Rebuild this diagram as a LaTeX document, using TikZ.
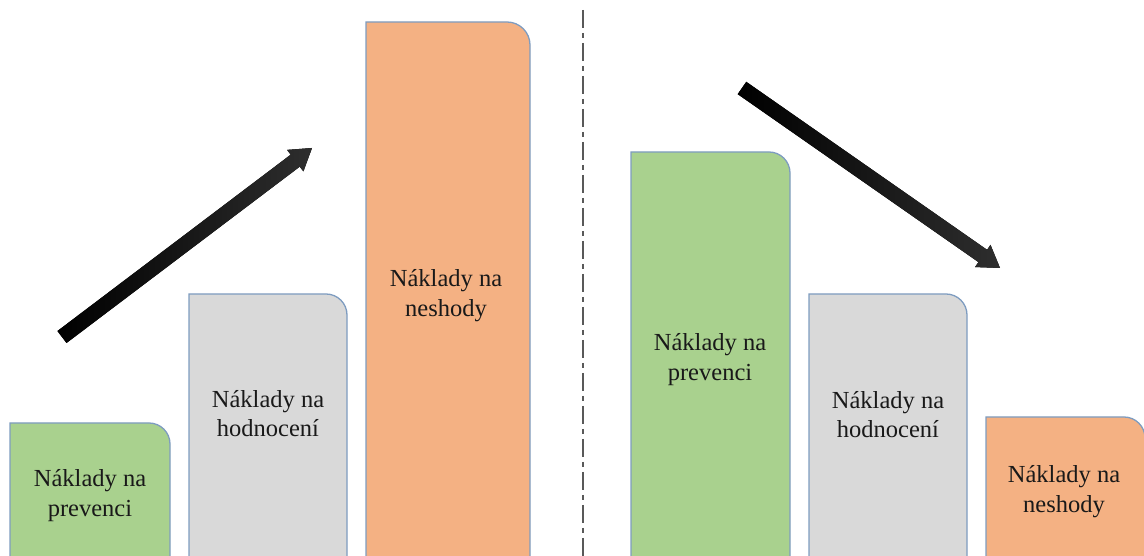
\documentclass[tikz,border=0pt]{standalone}
\usepackage{fontspec}
\setmainfont{Liberation Serif}
\usetikzlibrary{calc}
\definecolor{barG}{RGB}{169,209,142}
\definecolor{barY}{RGB}{217,217,217}
\definecolor{barO}{RGB}{244,177,131}
\definecolor{edgeC}{RGB}{126,156,192}
\tikzset{
  bar/.style={draw=edgeC, line width=1.3pt},
  lbl/.style={align=center, font=\fontsize{24.5}{29.5}\selectfont, text=black!90, inner sep=0pt},
  sep/.style={draw=black!65, line width=2.4pt, dash pattern=on 18pt off 5pt on 5pt off 5pt},
}
% #1 colour, #2 x-left, #3 x-right, #4 top, #5 radius
\newcommand\costbar[5]{%
  \filldraw[bar, fill=#1] (#2,-5) -- (#2,#4) -- ({#3-#5},#4)
    arc[start angle=90, end angle=0, radius=#5] -- (#3,-5);}
% #1 tail, #2 tip
\newcommand\fatarrow[2]{%
  \coordinate (#1h) at ($(#2)!21pt!(#1)$);
  \fill[black, opacity=.18, xshift=2pt, yshift=-3pt]
    ($(#1)!7.5pt!90:(#2)$) -- ($(#1h)!7.5pt!90:(#2)$) -- ($(#1h)!13.5pt!90:(#2)$) -- (#2)
    -- ($(#1h)!13.5pt!-90:(#2)$) -- ($(#1h)!7.5pt!-90:(#2)$) -- ($(#1)!7.5pt!-90:(#2)$) -- cycle;
  \fill[left color=black, right color=black!82]
    ($(#1)!7.5pt!90:(#2)$) -- ($(#1h)!7.5pt!90:(#2)$) -- ($(#1h)!13.5pt!90:(#2)$) -- (#2)
    -- ($(#1h)!13.5pt!-90:(#2)$) -- ($(#1h)!7.5pt!-90:(#2)$) -- ($(#1)!7.5pt!-90:(#2)$) -- cycle;}
\begin{document}
\begin{tikzpicture}[x=1pt, y=1pt]
  \useasboundingbox (0,0) rectangle (1144,556);
  \clip (0,0) rectangle (1144,556);
  % left half
  \costbar{barG}{10}{170}{133}{21}
  \costbar{barY}{189}{347}{262}{21}
  \costbar{barO}{366}{530}{534}{23}
  \node[lbl] (g1) at (90,60.5) {Náklady na\\prevenci};
  \node[lbl] (y1) at (268,142.5) {Náklady na\\hodnocení};
  \node[lbl] (o1) at (446,260.5) {Náklady na\\neshody};
  \coordinate (aTail) at (62,219);
  \coordinate (aTip) at (312,408);
  \fatarrow{aTail}{aTip}
  % separator
  \coordinate (sepTop) at (583,546);
  \coordinate (sepBot) at (583,0);
  \draw[sep] (sepTop) -- (sepBot);
  % right half
  \costbar{barG}{631}{790}{404}{21}
  \costbar{barY}{809}{967}{262}{21}
  \costbar{barO}{986}{1145}{139}{21}
  \node[lbl] (g2) at (710,196.5) {Náklady na\\prevenci};
  \node[lbl] (y2) at (888,141.5) {Náklady na\\hodnocení};
  \node[lbl] (o2) at (1064,64.5) {Náklady na\\neshody};
  \coordinate (bTail) at (742,468);
  \coordinate (bTip) at (1000,288);
  \fatarrow{bTail}{bTip}
\end{tikzpicture}
\end{document}
